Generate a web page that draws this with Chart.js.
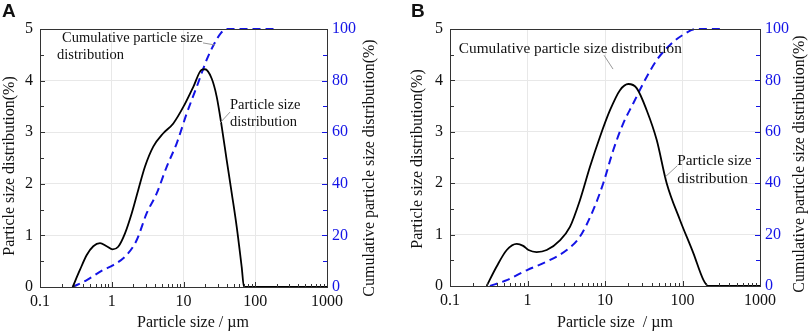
<!DOCTYPE html>
<html><head><meta charset="utf-8">
<script src="https://cdn.jsdelivr.net/npm/chart.js@4.4.0/dist/chart.umd.min.js"></script>
<style>
html,body{margin:0;padding:0;background:#fff;width:809px;height:334px;overflow:hidden;position:relative}
canvas{position:absolute;top:0}
#ca{left:0}#cb{left:404px}
</style></head><body>
<canvas id="ca" width="404" height="334"></canvas>
<canvas id="cb" width="405" height="334"></canvas>
<script>
// ---- tick labels ----
const xTickValues = [0.1, 1, 10, 100, 1000];
const xTickLabels = ['0.1', '1', '10', '100', '1000'];
const yLeftTicks = [0, 1, 2, 3, 4, 5];
const yRightTicks = [0, 20, 40, 60, 80, 100];

// ---- Panel A ----
const sizeA = [0.285, 0.36, 0.448, 0.553, 0.686, 0.849, 1.03, 1.23, 1.53, 1.90, 2.34, 2.90, 3.79, 5.23, 7.21, 9.94, 13.7, 17.9, 19.9, 24.7, 29.0, 34.1, 40.0, 47.0, 55.1, 64.7, 69.7, 1000];
const psdA  = [0, 0.33, 0.62, 0.79, 0.85, 0.79, 0.73, 0.78, 1.04, 1.43, 1.88, 2.33, 2.72, 2.98, 3.17, 3.49, 3.88, 4.21, 4.22, 4.04, 3.69, 3.11, 2.46, 1.82, 1.17, 0.39, 0, 0];
const cumSizeA = [0.285, 0.448, 0.762, 1.05, 1.61, 2.23, 3.07, 4.23, 5.83, 8.04, 11.1, 15.3, 21.0, 26.5, 33, 40, 200];
const cumA     = [0, 2.7, 6.6, 8.5, 12.4, 18.2, 28.6, 36.3, 46.6, 55.7, 67.3, 77.6, 88.0, 94.0, 98.3, 100, 100];

// ---- Panel B ----
const sizeB = [0.297, 0.40, 0.54, 0.726, 0.88, 1.03, 1.31, 1.77, 2.62, 3.53, 4.75, 6.4, 8.6, 11.6, 15.6, 20.0, 25.6, 34.5, 46.5, 62.5, 93.0, 138, 186, 215, 1000];
const psdB  = [0, 0.38, 0.70, 0.82, 0.78, 0.70, 0.66, 0.70, 0.89, 1.15, 1.67, 2.32, 2.90, 3.42, 3.81, 3.93, 3.85, 3.42, 2.84, 2.0, 1.28, 0.64, 0.12, 0, 0];
const cumSizeB = [0.328, 0.54, 0.99, 1.77, 3.21, 4.75, 7.06, 9.5, 12.8, 17.2, 23.2, 31.2, 46.5, 70, 100, 150, 343];
const cumB     = [0, 2.3, 6.2, 9.5, 14.0, 19.2, 29.6, 40.0, 52.9, 63.3, 71.1, 78.9, 87.9, 94.0, 97.6, 100, 100];

const BLUE = '#1414e6';
const SERIF = '"Liberation Serif", "Times New Roman", serif';
Chart.defaults.font.family = SERIF;

function decor(d) {
  return {
    id: 'decor' + d.letter,
    afterDraw(chart) {
      const ctx = chart.ctx, a = chart.chartArea;
      const xs = chart.scales.x, ys = chart.scales.y, y2 = chart.scales.y2;
      ctx.save();
      // inward ticks
      ctx.lineWidth = 1;
      ctx.strokeStyle = '#333';
      ctx.beginPath();
      for (let dec = 0.1; dec < 1000; dec *= 10) {
        for (let k = 1; k <= 9; k++) {
          const v = dec * k;
          const px = Math.round(xs.getPixelForValue(v)) + 0.5;
          const len = k === 1 ? 5 : 3;
          ctx.moveTo(px, a.bottom); ctx.lineTo(px, a.bottom - len);
        }
      }
      for (let v = 0; v <= 5; v += 0.5) {
        const py = Math.round(ys.getPixelForValue(v)) + 0.5;
        ctx.moveTo(a.left, py); ctx.lineTo(a.left + (v % 1 === 0 ? 5 : 4), py);
      }
      ctx.stroke();
      ctx.strokeStyle = BLUE;
      ctx.beginPath();
      for (let v = 0; v <= 100; v += 10) {
        const py = Math.round(y2.getPixelForValue(v)) + 0.5;
        ctx.moveTo(a.right, py); ctx.lineTo(a.right - (v % 20 === 0 ? 5 : 4), py);
      }
      ctx.stroke();
      // frame
      ctx.strokeStyle = '#333';
      ctx.strokeRect(Math.round(a.left) + 0.5, Math.round(a.top) + 0.5, Math.round(a.right - a.left), Math.round(a.bottom - a.top));
      // leader lines
      ctx.strokeStyle = '#999';
      ctx.beginPath();
      d.leaders.forEach(l => {
        ctx.moveTo(xs.getPixelForValue(l[0]), ys.getPixelForValue(l[1]));
        ctx.lineTo(xs.getPixelForValue(l[2]), ys.getPixelForValue(l[3]));
      });
      ctx.stroke();
      // annotation texts
      ctx.fillStyle = '#111';
      ctx.textBaseline = 'middle';
      ctx.textAlign = 'left';
      ctx.font = d.annSize + 'px ' + SERIF;
      d.notes.forEach(n => {
        ctx.fillText(n[0], xs.getPixelForValue(n[1]), ys.getPixelForValue(n[2]));
      });
      // axis titles
      ctx.font = '16px ' + SERIF;
      ctx.textAlign = 'center';
      ctx.fillText(d.xTitle, d.xTitlePos[0], d.xTitlePos[1]);
      ctx.save();
      ctx.translate(d.yTitlePos[0], d.yTitlePos[1]); ctx.rotate(-Math.PI / 2);
      ctx.fillText('Particle size distribution(%)', 0, 0);
      ctx.restore();
      ctx.save();
      ctx.translate(d.y2TitlePos[0], d.y2TitlePos[1]); ctx.rotate(-Math.PI / 2);
      ctx.fillText('Cumulative particle size distribution(%)', 0, 0);
      ctx.restore();
      // panel letter
      ctx.font = 'bold 19px "Liberation Sans", Arial, sans-serif';
      ctx.textAlign = 'left';
      ctx.textBaseline = 'alphabetic';
      ctx.fillText(d.letter, d.letterPos[0], d.letterPos[1]);
      ctx.restore();
    }
  };
}

function makeChart(id, d) {
  return new Chart(document.getElementById(id), {
    type: 'line',
    data: {
      datasets: [
        { label: 'Particle size distribution', data: d.sizes.map((s, i) => ({ x: s, y: d.psd[i] })),
          borderColor: '#000', borderWidth: 1.8, pointRadius: 0, cubicInterpolationMode: 'monotone', yAxisID: 'y', fill: false, clip: false },
        { label: 'Cumulative particle size distribution', data: d.cumSizes.map((s, i) => ({ x: s, y: d.cum[i] })),
          borderColor: BLUE, borderWidth: 2, borderDash: [8, 5], pointRadius: 0, cubicInterpolationMode: 'monotone', yAxisID: 'y2', fill: false, clip: false }
      ]
    },
    options: {
      responsive: false, animation: false, devicePixelRatio: 1,
      layout: { padding: { top: 29, left: 0, right: 0, bottom: 0 } },
      plugins: { legend: { display: false }, tooltip: { enabled: false } },
      scales: {
        x: {
          type: 'logarithmic', min: 0.1, max: 1000,
          afterBuildTicks: s => { s.ticks = xTickValues.map(v => ({ value: v })); },
          afterFit: s => { s.height = d.bottomH; },
          ticks: { callback: v => { const i = xTickValues.indexOf(v); return i >= 0 ? xTickLabels[i] : ''; },
                   maxRotation: 0, autoSkip: false, padding: 5, font: { size: 16 }, color: '#111' },
          grid: { color: '#e8e8e8', drawTicks: false }, border: { display: false }
        },
        y: {
          position: 'left', min: 0, max: 5,
          afterBuildTicks: s => { s.ticks = yLeftTicks.map(v => ({ value: v })); },
          afterFit: s => { s.width = d.leftW; },
          ticks: { padding: 7, font: { size: 16 }, color: '#111' },
          grid: { color: '#e8e8e8', drawTicks: false }, border: { display: false }
        },
        y2: {
          position: 'right', min: 0, max: 100,
          afterBuildTicks: s => { s.ticks = yRightTicks.map(v => ({ value: v })); },
          afterFit: s => { s.width = d.rightW; },
          ticks: { padding: 5, font: { size: 16 }, color: BLUE },
          grid: { drawOnChartArea: false, drawTicks: false }, border: { display: false }
        }
      }
    },
    plugins: [decor(d)]
  });
}

makeChart('ca', {
  letter: 'A', letterPos: [2, 17],
  sizes: sizeA, psd: psdA, cumSizes: cumSizeA, cum: cumA,
  leftW: 40, rightW: 77, bottomH: 47,
  annSize: 14.5,
  notes: [['Cumulative particle size', 0.203, 4.83], ['distribution', 0.173, 4.50],
          ['Particle size', 44.5, 3.53], ['distribution', 44.5, 3.20]],
  leaders: [[18.7, 4.73, 27.5, 4.69], [44.5, 3.39, 32.3, 3.18]],
  xTitle: 'Particle size / µm', xTitlePos: [193, 323],
  yTitlePos: [10, 166], y2TitlePos: [370, 168]
});

makeChart('cb', {
  letter: 'B', letterPos: [7, 17],
  sizes: sizeB, psd: psdB, cumSizes: cumSizeB, cum: cumB,
  leftW: 46, rightW: 49, bottomH: 48,
  annSize: 15.3,
  notes: [['Cumulative particle size distribution', 0.13, 4.61],
          ['Particle size', 85.7, 2.43], ['distribution', 85.7, 2.08]],
  leaders: [[9.7, 4.49, 12.7, 4.22], [85.7, 2.34, 60.7, 2.13]],
  xTitle: 'Particle size  / µm', xTitlePos: [211, 323],
  yTitlePos: [13.5, 159], y2TitlePos: [396, 164]
});
</script>
</body></html>
